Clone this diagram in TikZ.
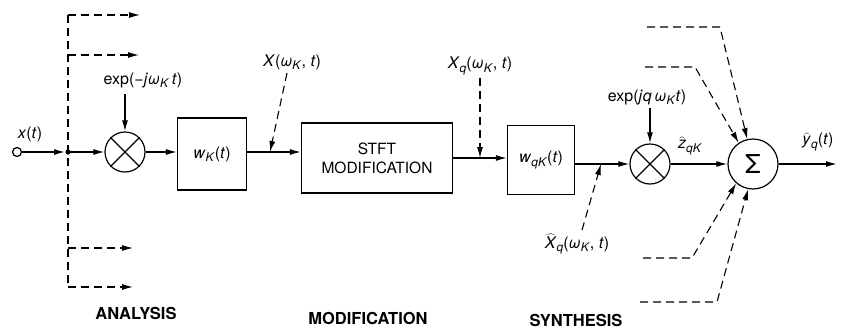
\documentclass[tikz,border=0pt]{standalone}
\usepackage{fontspec}
\setmainfont{TeX Gyre Heros}
\usepackage{tikz}
\usetikzlibrary{positioning, arrows.meta}
\newcommand{\iv}[1]{\textit{#1}}
\newcommand{\hv}[1]{$\widehat{\mbox{\iv{#1}}}$}
\newcommand{\sbs}[1]{\raisebox{-0.4ex}{\fontsize{12}{12}\selectfont\textit{#1}}}

\begin{document}
\begin{tikzpicture}[x=1pt, y=-1pt,
  font=\fontsize{16}{18}\selectfont,
  sig/.style={line width=1.4pt},
  tap/.style={line width=1.1pt, dash pattern=on 8pt off 5pt},
  tip/.style={-{Latex[length=11pt, width=6pt]}},
  blk/.style={draw, line width=1.2pt, minimum width=68pt, minimum height=70pt,
    inner sep=0pt, align=center},
  mix/.style={draw, circle, line width=1.2pt, minimum size=40pt, inner sep=0pt},
  stage/.style={font=\fontsize{16.5}{18}\selectfont\bfseries},
]
\useasboundingbox (0,0) rectangle (846,330);

% analysis
\node[draw, circle, line width=1.2pt, minimum size=9pt, inner sep=0pt] (in) at (17,152) {};
\node (xt) at (30,134) {\iv{x}(\iv{t})};
\coordinate (jn) at (68,152);
\node[mix] (m1) at (125,152) {};
\draw[line width=1.2pt] (m1.north west) -- (m1.south east) (m1.north east) -- (m1.south west);
\node (e1) at (143,80) {exp(−\iv{j}\iv{ω}\sbs{K}\,\iv{t})};
\coordinate (e1b) at (125,94);
\draw[sig, tip] (e1b) -- (m1.north);
\draw[sig, tip, shorten >=3pt] (in) -- (jn);
\draw[sig, tip] (jn) -- (m1.west);
\fill (jn) circle (2.6pt);

\coordinate (a1) at (140,15);
\coordinate (a2) at (139,55);
\coordinate (a3) at (133,248);
\coordinate (a4) at (133,287);
\draw[tap] (jn |- a1) -- (jn |- a4);
\foreach \k in {1,...,4}
  \draw[tap, tip] (jn |- a\k) -- (a\k);

\node[blk, minimum width=69pt, minimum height=72pt] (wk) at (212,154) {\iv{w}\sbs{K}(\iv{t})};
\draw[sig, tip] (m1.east) -- (wk.west |- m1);

% modification
\node[blk, minimum width=151pt, minimum height=70pt, font=\fontsize{15.5}{19}\selectfont]
  (stft) at (377,158) {STFT\\MODIFICATION};
\draw[sig, tip] (wk.east |- m1) -- (stft.west |- m1);
\node (xk) at (292,62) {\iv{X}(\iv{ω}\sbs{K}, \iv{t})};
\coordinate (p1) at (270,152);
\draw[tap, tip] ([xshift=-5pt]xk.south) -- (p1);

\node[blk, minimum width=67pt, minimum height=69pt] (wq) at (541,160) {\iv{w}\sbs{qK}(\iv{t})};
\draw[sig, tip] (stft.east) -- (wq.west |- stft.east);
\node (xq) at (480,66) {\iv{X}\sbs{q}(\iv{ω}\sbs{K}, \iv{t})};
\coordinate (p2) at (480,158);
\draw[tap, tip] (xq.south) -- (p2);

% synthesis
\node[mix] (m2) at (650,164) {};
\draw[line width=1.2pt] (m2.north west) -- (m2.south east) (m2.north east) -- (m2.south west);
\draw[sig, tip] (wq.east |- m2) -- (m2.west);
\node (e2) at (647,97) {exp(\iv{j}\iv{q}\,\iv{ω}\sbs{K}\iv{t})};
\coordinate (e2b) at (650,108);
\draw[sig, tip] (e2b) -- (m2.north);
\node (xh) at (577,244) {\hv{X}\sbs{q}(\iv{ω}\sbs{K}, \iv{t})};
\coordinate (p3) at (601,164);
\draw[tap, tip] ([xshift=5pt]xh.north) -- (p3);

\node[draw, circle, line width=1.2pt, minimum size=50pt, inner sep=0pt,
  font=\fontsize{26}{28}\selectfont] (sum) at (753,164) {Σ};
\draw[sig, tip] (m2.east) -- (sum.west);
\node (zq) at (690,146) {\hv{z}\sbs{qK}};
\coordinate (yo) at (837,164);
\draw[sig, tip] (sum.east) -- (yo);
\node (yq) at (818,142) {\hv{y}\sbs{q}(\iv{t})};

\coordinate (s1) at (647,27);  \coordinate (k1) at (720,27);
\coordinate (s2) at (645,67);  \coordinate (k2) at (695,67);
\coordinate (s3) at (643,258); \coordinate (k3) at (692,258);
\coordinate (s4) at (640,302); \coordinate (k4) at (717,302);
\draw[tap, tip] (s1) -- (k1) -- (sum.103);
\draw[tap, tip] (s2) -- (k2) -- (sum.124);
\draw[tap, tip] (s3) -- (k3) -- (sum.229);
\draw[tap, tip] (s4) -- (k4) -- (sum.259);

% stage names
\node[stage] (an) at (136,313) {ANALYSIS};
\node[stage] (mo) at (368,318) {MODIFICATION};
\node[stage] (sy) at (576,320) {SYNTHESIS};
\end{tikzpicture}
\end{document}
